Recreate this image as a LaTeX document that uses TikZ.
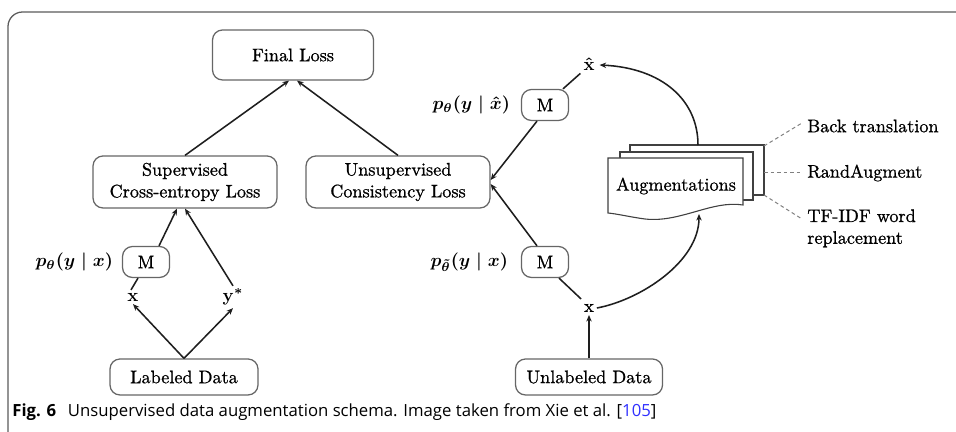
\documentclass[tikz,border=0pt]{standalone}
\usepackage{fontspec}
\newfontfamily\capfont{Open Sans}
\newfontfamily\diagfont{lmroman10-regular}[Extension=.otf, FakeBold=0.9]
\usepackage{amsmath}
\usetikzlibrary{arrows.meta,calc}
\definecolor{boxline}{HTML}{666666}
\definecolor{ink}{HTML}{1E1E1E}
\definecolor{frameline}{HTML}{5A5A5A}
\definecolor{citeblue}{HTML}{3030FF}
% one drawing unit in points
\def\pxu{0.55pt}
\begin{document}
\begin{tikzpicture}[x=0.55pt,y=-0.55pt,
  box/.style={draw=boxline, line width=0.7pt, rounded corners=5.5pt, fill=white,
    align=center, inner sep=1pt, font=\diagfont\fontsize{10}{12}\selectfont},
  arr/.style={draw=ink, line width=0.85pt, -{Stealth[length=3.6pt,width=3pt]}},
  ln/.style={draw=ink, line width=0.85pt},
  lbl/.style={inner sep=1.5pt, font=\diagfont\fontsize{10}{12}\selectfont},
  mlbl/.style={inner sep=1.5pt, font=\boldmath\fontsize{10}{12}\selectfont},
  dsh/.style={draw=gray, dash pattern=on 2pt off 1.6pt, line width=0.55pt},
  sheet/.style={draw=black!75, fill=white, line width=0.6pt}]

\useasboundingbox (0,0) rectangle (956,432);

% frame
\draw[frameline, line width=0.7pt, rounded corners=8pt] (8,440) -- (8,12) -- (960,12);

% left branch
\node[box, minimum width={161*\pxu}, minimum height={50*\pxu}] (final) at (293,55) {Final Loss};
\node[box, minimum width={184*\pxu}, minimum height={52*\pxu}] (sup) at (185,182) {Supervised\\Cross-entropy Loss};
\node[box, minimum width={184*\pxu}, minimum height={52*\pxu}] (uns) at (398,182) {Unsupervised\\Consistency Loss};
\node[box, minimum width={47*\pxu}, minimum height={31*\pxu}] (mL) at (146,262) {M};
\node[mlbl, anchor=east] (pL) at (116,262) {$p_{\theta}(y\;|\;x)$};
\node[mlbl] (xL) at (133,297) {$\mathbf{x}$};
\node[mlbl] (yL) at (233,297) {$\mathbf{y}^{*}$};
\node[box, minimum width={148*\pxu}, minimum height={36*\pxu}] (lab) at (184,377) {Labeled Data};

% right branch
\node[mlbl] (xh) at (589,64) {$\hat{\mathbf{x}}$};
\node[box, minimum width={47*\pxu}, minimum height={31*\pxu}] (mT) at (545,105) {M};
\node[mlbl, anchor=east] (pT) at (513,105) {$p_{\theta}(y\;|\;\hat{x})$};
\node[box, minimum width={47*\pxu}, minimum height={31*\pxu}] (mB) at (545,262) {M};
\node[mlbl, anchor=east] (pB) at (511,262) {$p_{\tilde{\theta}}(y\;|\;x)$};
\node[lbl] (xR) at (589,308) {x};
\node[box, minimum width={147*\pxu}, minimum height={36*\pxu}] (unl) at (589,377) {Unlabeled Data};

% stack of augmentation sheets
\draw[sheet] (630,145) rectangle (764,195);
\draw[sheet] (620,152) rectangle (753,200);
\draw[sheet] (608,158) -- (743,158) -- (743,205)
  .. controls (712,200) and (680,223) .. (645,219)
  .. controls (630,217) and (618,214) .. (608,213) -- cycle;
\node[lbl] (aug) at (676,186) {Augmentations};
\coordinate (augT) at (698,145);
\coordinate (augB) at (699,214);
\coordinate (s1) at (764,146);
\coordinate (s2) at (764,173);
\coordinate (s3) at (764,195);

% augmentation methods
\node[lbl, anchor=west, inner sep=0pt] (bt) at (807,126) {Back translation};
\node[lbl, anchor=west, inner sep=0pt] (ra) at (807,173) {RandAugment};
\node[lbl, anchor=north west, align=left, inner sep=0pt] (tf) at (807,209) {TF-IDF word\\replacement};
\draw[dsh] (s1) -- ($(bt.west)+(-5,-3)$);
\draw[dsh] (s2) -- ($(ra.west)+(-5,0)$);
\draw[dsh] (s3) -- ($(tf.north west)+(-5,10)$);

% connectors, left
\draw[arr] (sup.north) -- ($(final.south)+(-4,0)$);
\draw[arr] (uns.north) -- ($(final.south)+(4,0)$);
\draw[arr] ($(mL.north)+(13,0)$) -- ($(sup.south)+(-8,0)$);
\draw[ln] ($(xL.north)+(-2,0)$) -- ($(mL.south)+(-8,0)$);
\draw[arr] (yL.north) -- (sup.south);
\draw[arr] (lab.north) -- (xL.south);
\draw[arr] (lab.north) -- (yL.south);

% connectors, right
\draw[arr] ($(mT.south)+(-8,0)$) -- ($(uns.east)+(0,-2)$);
\draw[arr] ($(mB.north)+(-8,0)$) -- ($(uns.east)+(0,2)$);
\draw[ln] ($(mT.north)+(18,0)$) -- ($(xh.south west)+(0,0)$);
\draw[ln] ($(mB.south)+(14,0)$) -- ($(xR.north west)+(0,-2)$);
\draw[arr] (unl.north) -- (xR.south);
\draw[arr] (xR.east) .. controls (640,300) and (699,262) .. (augB);
\draw[arr] (augT) .. controls (698,100) and (662,68) .. ($(xh.east)+(2,1)$);

% caption
\node[anchor=west, inner sep=0pt, font=\capfont\fontsize{9.2}{11}\selectfont] (cap) at (12,412)
  {\textbf{Fig. 6}\hspace{0.7em}Unsupervised data augmentation schema. Image taken from Xie et al. [\textcolor{citeblue}{105}]};
\end{tikzpicture}
\end{document}
